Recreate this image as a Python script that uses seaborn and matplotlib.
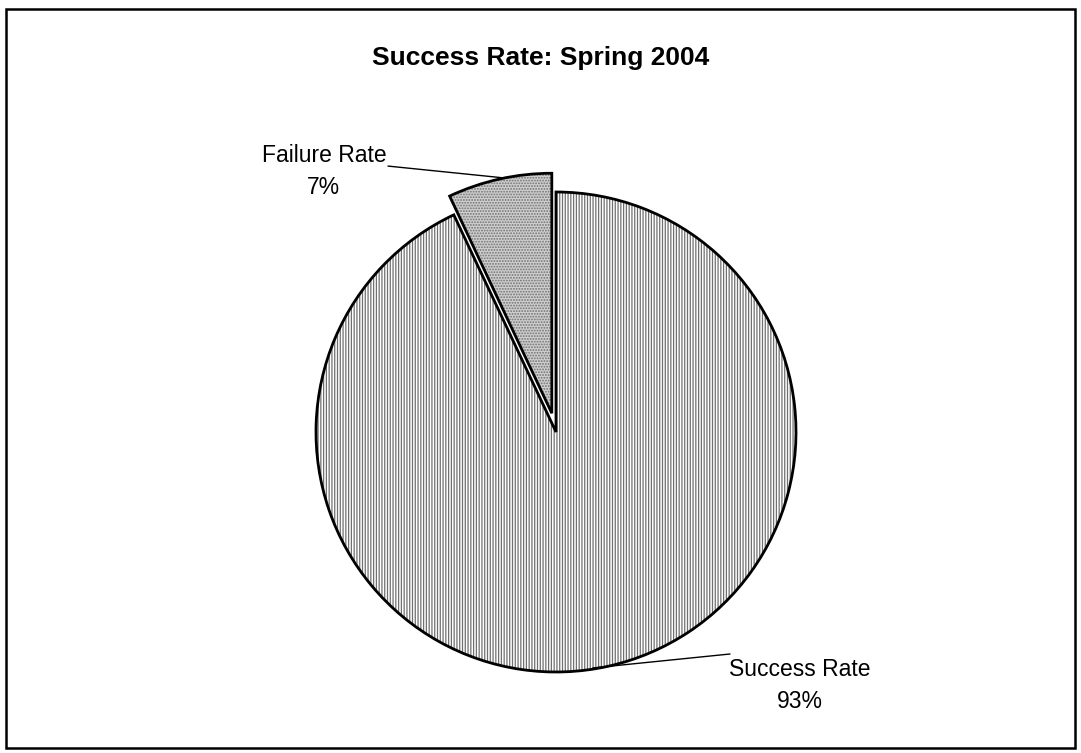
import matplotlib
matplotlib.use("Agg")
import matplotlib.pyplot as plt
import seaborn as sns
from matplotlib.patches import Rectangle

# chart data
categories = ["Failure Rate", "Success Rate"]
shares = [7, 93]
explode = [0.08, 0]
hatches = ["......", "||||||"]
fills = ["#cfcfcf", "white"]

sns.set_theme(style="white")
plt.rcParams["font.family"] = ["Liberation Sans", "DejaVu Sans"]
plt.rcParams["text.color"] = "black"
plt.rcParams["hatch.linewidth"] = 0.9

W, H = 1081, 753
fig = plt.figure(figsize=(W / 100, H / 100), dpi=100)

# pie centre and radius in pixels
cx, cy, r = 556, 432, 240
span = 1.35
ax = fig.add_axes([(cx - span * r) / W, (H - cy - span * r) / H, 2 * span * r / W, 2 * span * r / H])
ax.axis("off")

# filled + hatched wedges
wedges, _ = ax.pie(shares, explode=explode, startangle=90, counterclock=True,
                   colors=fills, wedgeprops=dict(edgecolor="#707070", linewidth=0))
for w, h in zip(wedges, hatches):
    w.set_hatch(h)

# black outlines on top
outl, _ = ax.pie(shares, explode=explode, startangle=90, counterclock=True,
                 wedgeprops=dict(fill=False, edgecolor="black", linewidth=2))
ax.set_xlim(-span, span)
ax.set_ylim(-span, span)

# labels and leader lines
ax.text(-0.967, 1.085, "Failure Rate\n7%", ha="center", va="center",
        fontsize=16.5, linespacing=1.5, clip_on=False)
ax.plot([-0.70, -0.21], [1.108, 1.058], color="black", lw=1, clip_on=False)

ax.text(1.017, -1.058, "Success Rate\n93%", ha="center", va="center",
        fontsize=16.5, linespacing=1.5, clip_on=False)
ax.plot([0.154, 0.725], [-0.983, -0.925], color="black", lw=1, clip_on=False)

fig.text(0.5, 1 - 58 / H, "Success Rate: Spring 2004", ha="center", va="center",
         fontsize=19, fontweight="bold")

# frame around the chart area
fig.patches.append(Rectangle((6 / W, 1 - 748 / H), (1075 - 6) / W, (748 - 9) / H,
                             transform=fig.transFigure, fill=False,
                             edgecolor="black", linewidth=1.8))

fig.savefig("out.png", dpi=100)
